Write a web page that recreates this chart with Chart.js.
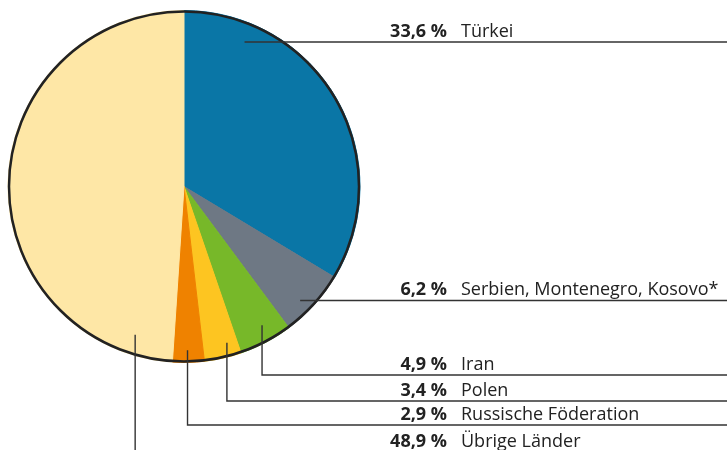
<!DOCTYPE html>
<html>
<head>
<meta charset="utf-8">
<script src="https://cdn.jsdelivr.net/npm/chart.js@4"></script>
<style>
    html, body { margin: 0; padding: 0; background: #fff; }
    canvas { display: block; }
</style>
</head>
<body>
<canvas id="pieChart" width="727" height="450"></canvas>
<script>
// Anteile nach Herkunftsland (in %)
const countries = ['Türkei', 'Serbien, Montenegro, Kosovo*', 'Iran', 'Polen', 'Russische Föderation', 'Übrige Länder'];
const shares = [33.6, 6.2, 4.9, 3.4, 2.9, 48.9];
const colors = ['#0a76a6', '#6e7884', '#77b829', '#fdc521', '#ef8200', '#fee7a6'];

// label rows: y of the leader line, anchor inside slice (fraction along arc, fraction of radius)
const labelLineY = [42, 300.5, 375, 401, 425, 452];
const anchorAlong = [0.19, 0.6, 0.41, 0.29, 0.52, 0.082];
const anchorRadius = [0.88, 0.925, 0.905, 0.92, 0.93, 0.887];

const fontFamily = '"Open Sans", sans-serif';
const textColor = '#222';
const lineColor = '#333';

function formatShare(v) {
    return v.toFixed(1).replace('.', ',') + ' %';
}

const leaderLabels = {
    id: 'leaderLabels',
    afterDatasetsDraw(chart) {
        const ctx = chart.ctx;
        const arcs = chart.getDatasetMeta(0).data;
        const cx = arcs[0].x;
        const cy = arcs[0].y;
        const R = arcs[0].outerRadius;

        ctx.save();
        // outer ring
        ctx.beginPath();
        ctx.arc(cx, cy, R - 1, 0, Math.PI * 2);
        ctx.lineWidth = 2.5;
        ctx.strokeStyle = '#222';
        ctx.stroke();

        // leader lines
        ctx.lineWidth = 1.4;
        ctx.strokeStyle = lineColor;
        arcs.forEach((arc, i) => {
            const a = arc.startAngle + (arc.endAngle - arc.startAngle) * anchorAlong[i];
            const r = R * anchorRadius[i];
            const ax = cx + r * Math.cos(a);
            const ay = cy + r * Math.sin(a);
            const ly = labelLineY[i];
            ctx.beginPath();
            if (i < 2) {
                ctx.moveTo(ax, ly);
            } else {
                ctx.moveTo(ax, ay);
                ctx.lineTo(ax, ly);
            }
            ctx.lineTo(chart.width, ly);
            ctx.stroke();
        });

        // texts
        ctx.fillStyle = textColor;
        ctx.textBaseline = 'alphabetic';
        arcs.forEach((arc, i) => {
            const ty = labelLineY[i] - 5.5;
            ctx.font = 'bold 18px ' + fontFamily;
            ctx.textAlign = 'right';
            ctx.fillText(formatShare(shares[i]), 447, ty);
            ctx.font = '18px ' + fontFamily;
            ctx.textAlign = 'left';
            ctx.fillText(countries[i], 461, ty);
        });
        ctx.restore();
    }
};

new Chart(document.getElementById('pieChart'), {
    type: 'pie',
    data: {
        labels: countries,
        datasets: [{
            data: shares,
            backgroundColor: colors,
            borderColor: colors,
            borderWidth: 1
        }]
    },
    options: {
        responsive: false,
        animation: false,
        layout: {
            padding: { left: 7.5, right: 366.5, top: 10, bottom: 87 }
        },
        plugins: {
            legend: { display: false },
            tooltip: { enabled: false }
        }
    },
    plugins: [leaderLabels]
});
</script>
</body>
</html>
